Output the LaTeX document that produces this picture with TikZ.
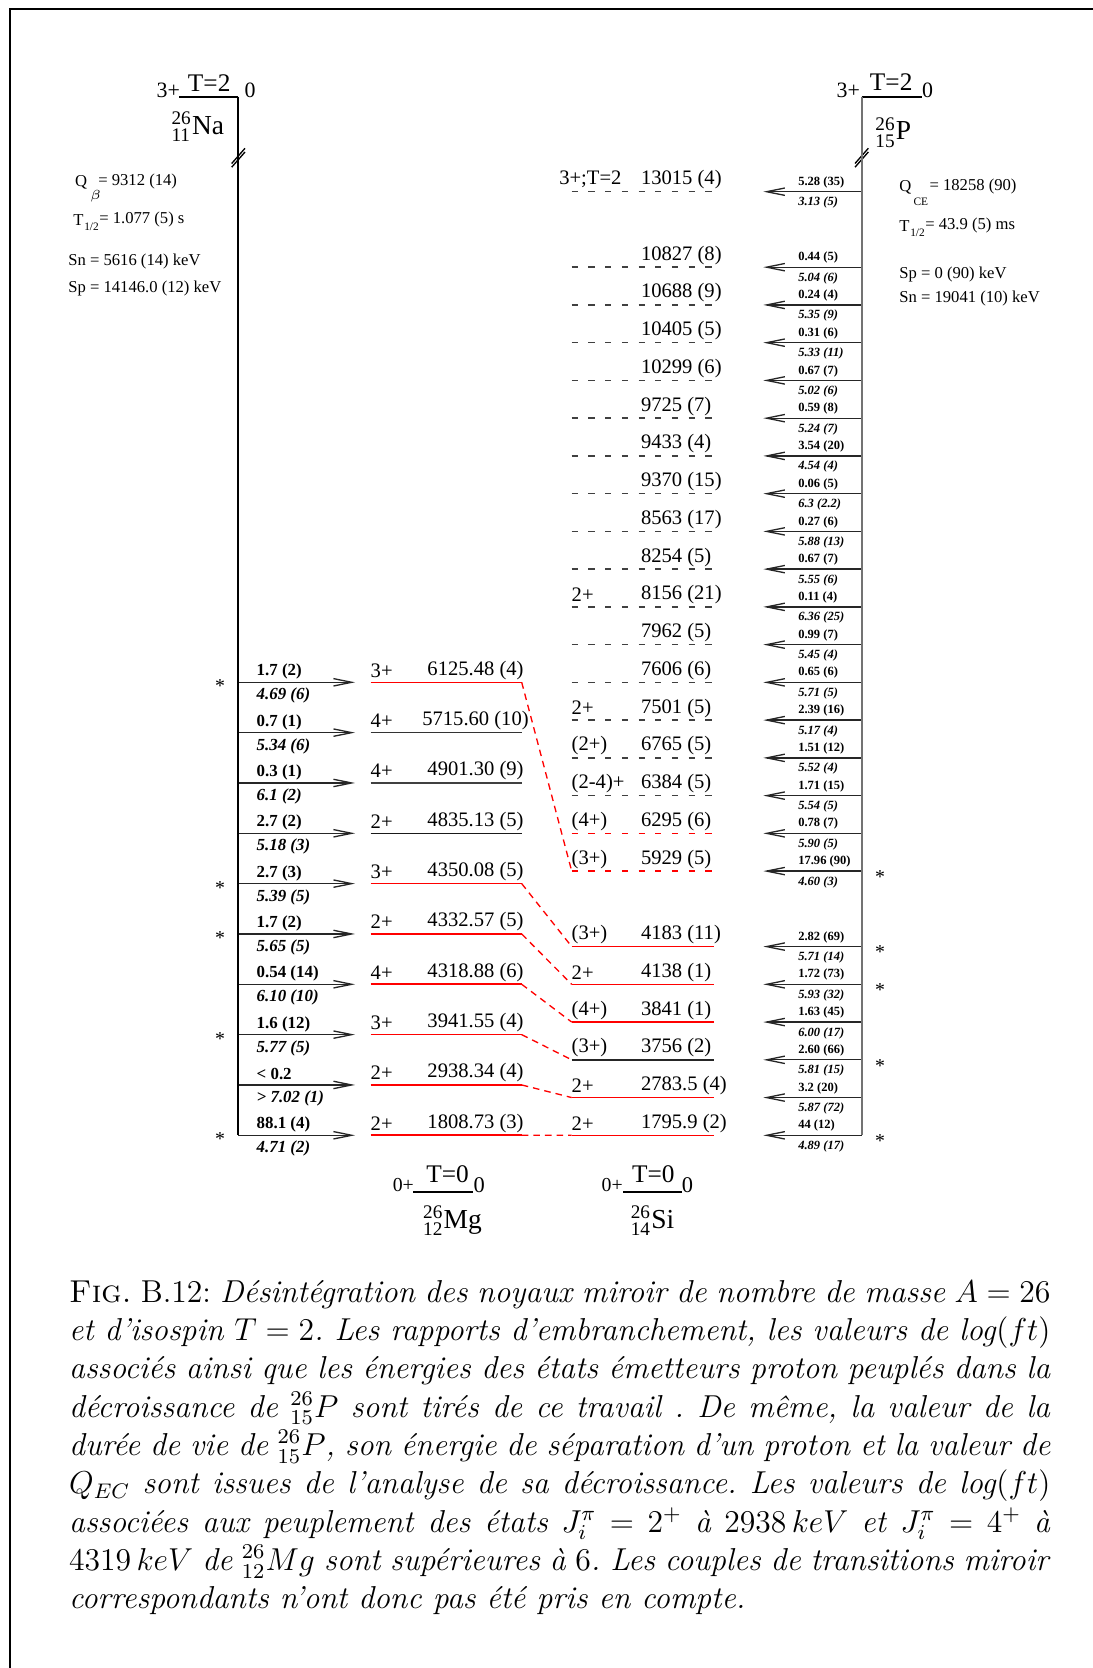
\documentclass[tikz,border=0pt]{standalone}
\usepackage{amsmath}
\usepackage{fontspec}
\newfontfamily\tms{Liberation Serif}
\usetikzlibrary{arrows.meta}
\newcommand\nucl[3]{${}^{\text{#1}}_{\text{#2}}$#3}
\newcommand\tmf[1]{\tms\fontsize{#1}{#1}\selectfont}
\newlength\capw
\setlength\capw{371.7pt}
\frenchspacing
\begin{document}
\begin{tikzpicture}[x=0.37879pt,y=-0.37879pt]
\tikzset{
  every node/.style={inner sep=0pt,outer sep=0pt},
  hdr/.style={font=\tmf{8.3}},
  hdrT/.style={font=\tmf{9.6}},
  nuc/.style={font=\tmf{10.4}},
  info/.style={font=\tmf{6.3},anchor=west},
  infos/.style={font=\tmf{4.3},anchor=west},
  lab/.style={font=\tmf{7.8}},
  nlb/.style={font=\tmf{6.4}\bfseries,anchor=west},
  nli/.style={font=\tmf{6.4}\bfseries\itshape,anchor=west},
  plb/.style={font=\tmf{4.75}\bfseries,anchor=west},
  pli/.style={font=\tmf{4.75}\bfseries\itshape,anchor=west},
  star/.style={font=\tmf{7.5},anchor=base},
  parent/.style={line width=0.9pt},
  vline/.style={line width=0.8pt},
  pvline/.style={line width=0.8pt,black!55},
  narr/.style={line width=0.5pt,black!85,-{Straight Barb[length=6.9pt,width=2.8pt]}},
  parr/.style={line width=0.5pt,black!85,-{Straight Barb[length=6.9pt,width=2.8pt]}},
  mglvl/.style={line width=0.6pt},
  sgd/.style={line width=0.6pt,black!75,dash pattern=on 2.35pt off 3.98pt},
  srd/.style={line width=0.6pt,red,dash pattern=on 2.35pt off 3.98pt},
  sr/.style={line width=0.6pt,red},
  sk/.style={line width=0.6pt,black!85},
  conn/.style={line width=0.5pt,red,dash pattern=on 2.5pt off 1.9pt},
  brk/.style={line width=0.5pt},
  capt/.style={font=\fontsize{12}{14.5}\selectfont,anchor=base west},
}
\useasboundingbox (0,0) rectangle (1093,1668);
% frame
\coordinate (fBL) at (10,1668);
\coordinate (fTL) at (10,9);
\coordinate (fTR) at (1093,9);
\draw[line width=0.8pt] (fBL) -- (fTL) -- (fTR);

% ---------- 26Na parent ----------
\coordinate (naLvl) at (179,96.7);
\coordinate (naTop) at (238.3,96.7);
\draw[parent] (naLvl) -- (naTop);
\node[hdr] (na3) at (168.3,90.8) {3+};
\node[hdrT] (naT) at (209.2,83.3) {T=2};
\node[hdr] (na0) at (250,90.8) {0};
\node[nuc] (naN) at (197.8,126.7) {\nucl{26}{11}{Na}};
\coordinate (nabA1) at (231.7,163.5); \coordinate (nabA2) at (245,148.3);
\coordinate (nabB1) at (231.7,167.2); \coordinate (nabB2) at (245,152.0);
\draw[brk] (nabA1) -- (nabA2);
\draw[brk] (nabB1) -- (nabB2);
% Na info
\node[info] (naQ) at (75,182) {Q};
\node[infos] (naQs) at (90,196.7) {$\beta$};
\node[info] (naQv) at (98.3,182) {= 9312 (14)};
\node[info] (naTh) at (73.3,220) {T};
\node[infos] (naThs) at (84.3,226.7) {1/2};
\node[info] (naThv) at (99.3,220) {= 1.077 (5) s};
\node[info] (naSn) at (68.3,262) {Sn = 5616 (14) keV};
\node[info] (naSp) at (68.3,288.3) {Sp = 14146.0 (12) keV};

% ---------- 26P parent ----------
\coordinate (pLvl) at (921.7,96.7);
\coordinate (pTop) at (861.7,96.7);
\draw[parent] (pTop) -- (pLvl);
\node[hdr] (p3) at (848.3,90.8) {3+};
\node[hdrT] (pT) at (891.2,82.5) {T=2};
\node[hdr] (p0) at (927.5,90.8) {0};
\node[nuc] (pN) at (893.3,132.5) {\nucl{26}{15}{P}};
\coordinate (pbA1) at (855,163.5); \coordinate (pbA2) at (868.3,148.3);
\coordinate (pbB1) at (855,167.2); \coordinate (pbB2) at (868.3,152.0);
\draw[brk] (pbA1) -- (pbA2);
\draw[brk] (pbB1) -- (pbB2);
% P info
\node[info] (pQ) at (899.3,187) {Q};
\node[infos] (pQs) at (913.5,201.5) {CE};
\node[info] (pQv) at (929.5,187) {= 18258 (90)};
\node[info] (pTh) at (899.3,225.6) {T};
\node[infos] (pThs) at (910.3,232.3) {1/2};
\node[info] (pThv) at (925.3,225.6) {= 43.9 (5) ms};
\node[info] (pSp) at (899.3,274.6) {Sp = 0 (90) keV};
\node[info] (pSn) at (899.3,299) {Sn = 19041 (10) keV};

% ---------- 26Mg levels fed by 26Na ----------
\foreach \i/\vs/\ve/\col/\vb/\vi in {
 1/3+/6125.48 (4)/red/1.7 (2)/4.69 (6),
 2/4+/5715.60 (10)/black!80/0.7 (1)/5.34 (6),
 3/4+/4901.30 (9)/black!75/0.3 (1)/6.1 (2),
 4/2+/4835.13 (5)/black!90/2.7 (2)/5.18 (3),
 5/3+/4350.08 (5)/red/2.7 (3)/5.39 (5),
 6/2+/4332.57 (5)/red/1.7 (2)/5.65 (5),
 7/4+/4318.88 (6)/red/0.54 (14)/6.10 (10),
 8/3+/3941.55 (4)/red/1.6 (12)/5.77 (5),
 9/2+/2938.34 (4)/red/< 0.2/> 7.02 (1),
 10/2+/1808.73 (3)/red/88.1 (4)/4.71 (2)}{
  \pgfmathsetmacro\yy{682.3+50.33*(\i-1)}
  \coordinate (mgL\i) at (370.7,\yy);
  \coordinate (mgR\i) at (521.7,\yy);
  \coordinate (mgA\i) at (355,\yy);
  \coordinate (na\i) at (238.3,\yy);
  \draw[mglvl,\col] (mgL\i) -- (mgR\i);
  \node[lab,anchor=west] (mgs\i) at (370.7,\yy-12) {\vs};
  \node[lab] (mge\i) at (475.5,\yy-12) {\ve};
  \draw[narr] (na\i) -- (mgA\i);
  \node[nlb] (nb\i) at (256.7,\yy-10.6) {\vb};
  \node[nli] (ni\i) at (256.7,\yy+13.4) {\vi};
}
\draw[vline] (naTop) -- (na10);
\foreach \i in {1,5,6,8,10}{
  \pgfmathsetmacro\yy{682.3+50.33*(\i-1)}
  \node[star] (nast\i) at (220,\yy+10.5) {*};
}

% ---------- 26Si levels fed by 26P ----------
\foreach \k/\ve/\vs/\vb/\vi in {
 0/13015 (4)/sgd/5.28 (35)/3.13 (5),
 2/10827 (8)/sgd/0.44 (5)/5.04 (6),
 3/10688 (9)/sgd/0.24 (4)/5.35 (9),
 4/10405 (5)/sgd/0.31 (6)/5.33 (11),
 5/10299 (6)/sgd/0.67 (7)/5.02 (6),
 6/9725 (7)/sgd/0.59 (8)/5.24 (7),
 7/9433 (4)/sgd/3.54 (20)/4.54 (4),
 8/9370 (15)/sgd/0.06 (5)/6.3 (2.2),
 9/8563 (17)/sgd/0.27 (6)/5.88 (13),
 10/8254 (5)/sgd/0.67 (7)/5.55 (6),
 11/8156 (21)/sgd/0.11 (4)/6.36 (25),
 12/7962 (5)/sgd/0.99 (7)/5.45 (4),
 13/7606 (6)/sgd/0.65 (6)/5.71 (5),
 14/7501 (5)/sgd/2.39 (16)/5.17 (4),
 15/6765 (5)/sgd/1.51 (12)/5.52 (4),
 16/6384 (5)/sgd/1.71 (15)/5.54 (5),
 17/6295 (6)/srd/0.78 (7)/5.90 (5),
 18/5929 (5)/srd/17.96 (90)/4.60 (3),
 20/4183 (11)/sr/2.82 (69)/5.71 (14),
 21/4138 (1)/sr/1.72 (73)/5.93 (32),
 22/3841 (1)/sr/1.63 (45)/6.00 (17),
 23/3756 (2)/sk/2.60 (66)/5.81 (15),
 24/2783.5 (4)/sr/3.2 (20)/5.87 (72),
 25/1795.9 (2)/sr/44 (12)/4.89 (17)}{
  \pgfmathsetmacro\yy{191.7+37.744*\k}
  \coordinate (siL\k) at (571.7,\yy);
  \coordinate (siR\k) at (714.3,\yy);
  \coordinate (siA\k) at (763.3,\yy);
  \coordinate (pB\k) at (861.7,\yy);
  \draw[\vs] (siL\k) -- (siR\k);
  \node[lab,anchor=west] (sie\k) at (641,\yy-12) {\ve};
  \draw[parr] (pB\k) -- (siA\k);
  \node[plb] (pb\k) at (798.3,\yy-9.4) {\vb};
  \node[pli] (pi\k) at (798.3,\yy+11) {\vi};
}
\draw[pvline] (pTop) -- (pB25);
\node[lab,anchor=west] (sis0) at (559.3,191.7-12) {3+;T=2};
\foreach \k/\vs in {11/2+,14/2+,15/(2+),16/(2-4)+,17/(4+),18/(3+),20/(3+),21/2+,22/(4+),23/(3+),24/2+,25/2+}{
  \pgfmathsetmacro\yy{191.7+37.744*\k}
  \node[lab,anchor=west] (sis\k) at (571.7,\yy-12) {\vs};
}
\foreach \k in {18,20,21,23,25}{
  \pgfmathsetmacro\yy{191.7+37.744*\k}
  \node[star] (pst\k) at (880,\yy+12.2) {*};
}

% ---------- mirror connectors ----------
\draw[conn] (mgR1) -- (siL18);
\draw[conn] (mgR5) -- (siL20);
\draw[conn] (mgR6) -- (siL21);
\draw[conn] (mgR7) -- (siL22);
\draw[conn] (mgR8) -- (siL23);
\draw[conn] (mgR9) -- (siL24);
\draw[conn] (mgR10) -- (siL25);

% ---------- ground states ----------
\coordinate (mgG1) at (413.3,1191.7);
\coordinate (mgG2) at (472.7,1191.7);
\draw[parent] (mgG1) -- (mgG2);
\node[font=\tmf{7.5}] (mg0p) at (403.3,1185) {0+};
\node[hdrT] (mgT) at (447.5,1174.2) {T=0};
\node[font=\tmf{8.5}] (mg0) at (479.2,1185) {0};
\node[nuc] (mgN) at (452.5,1220.8) {\nucl{26}{12}{Mg}};
\coordinate (siG1) at (623.3,1191.7);
\coordinate (siG2) at (681.7,1191.7);
\draw[parent] (siG1) -- (siG2);
\node[font=\tmf{7.5}] (si0p) at (612.2,1185) {0+};
\node[hdrT] (siT) at (653.3,1174.2) {T=0};
\node[font=\tmf{8.5}] (si0) at (687.5,1185) {0};
\node[nuc] (siN) at (652.5,1220.8) {\nucl{26}{14}{Si}};

% ---------- caption ----------
\node[capt] (cap1) at (69.2,1302) {\hbox to \capw{\textsc{Fig.} B.12: \textit{Désintégration des noyaux miroir de nombre de masse} $A=26$}};
\node[capt] (cap2) at (69.2,1340.35) {\hbox to \capw{\textit{et d'isospin} $T=2$\textit{. Les rapports d'embranchement, les valeurs de log}$(ft)$}};
\node[capt] (cap3) at (69.2,1378.7) {\hbox to \capw{\textit{associés ainsi que les énergies des états émetteurs proton peuplés dans la}}};
\node[capt] (cap4) at (69.2,1417.05) {\hbox to \capw{\textit{décroissance de} ${}^{26}_{15}P$ \textit{sont tirés de ce travail . De même, la valeur de la}}};
\node[capt] (cap5) at (69.2,1455.4) {\hbox to \capw{\textit{durée de vie de} ${}^{26}_{15}P$\textit{, son énergie de séparation d'un proton et la valeur de}}};
\node[capt] (cap6) at (69.2,1493.75) {\hbox to \capw{$Q_{EC}$ \textit{sont issues de l'analyse de sa décroissance. Les valeurs de log}$(ft)$}};
\node[capt] (cap7) at (69.2,1532.1) {\hbox to \capw{\textit{associées aux peuplement des états} $J_i^\pi = 2^+$ \textit{à} $2938\,keV$ \textit{et} $J_i^\pi = 4^+$ \textit{à}}};
\node[capt] (cap8) at (69.2,1570.45) {\hbox to \capw{$4319\,keV$ \textit{de} ${}^{26}_{12}Mg$ \textit{sont supérieures à} $6$\textit{. Les couples de transitions miroir}}};
\node[capt] (cap9) at (69.2,1608.8) {\textit{correspondants n'ont donc pas été pris en compte.}};
\end{tikzpicture}
\end{document}
